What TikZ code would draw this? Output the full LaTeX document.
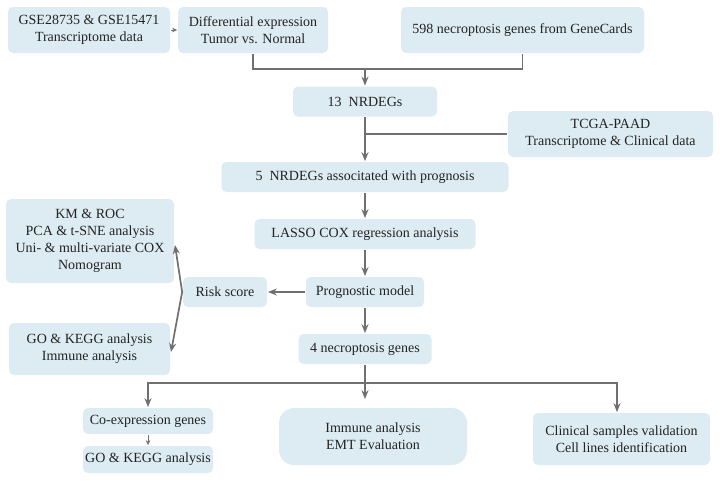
\documentclass[tikz,border=0pt]{standalone}
\usepackage{fontspec}
\setmainfont{Liberation Serif}
\usetikzlibrary{shapes,arrows.meta}
\definecolor{boxblue}{RGB}{220,236,242}
\definecolor{linegray}{RGB}{112,112,112}
\definecolor{textgray}{RGB}{35,35,35}

\begin{document}
\begin{tikzpicture}[x=1pt,y=-1pt,->,>={Stealth[length=9pt,width=7pt]},draw=linegray,line width=1.7pt]
	\rmfamily\fontsize{14}{17}\selectfont
	\def \rowone{30}
	\def \joinone{69}
	\def \rowtwo{101.5}
	\def \joinfree{134}
	\def \rowthree{177}
	\def \rowfour{234}
	\def \rowfive{292}
	\def \rowsix{349}
	\def \jointwo{383}
	\def \midx{365}

	\tikzstyle{box}=[fill=boxblue,draw=none,rounded corners=5pt,text=textgray,align=center,inner sep=0pt]
	\tikzstyle{small}=[line width=0.9pt,>={Stealth[length=5pt,width=4.5pt]}]

	\useasboundingbox (0,0) rectangle (720,480);

	% data sources
	\node[box,minimum width=162,minimum height=46]	(gse)	at (89,\rowone)		{GSE28735 \& GSE15471\\Transcriptome data};
	\node[box,minimum width=150,minimum height=46]	(diff)	at (253,\rowone)	{Differential expression\\Tumor vs. Normal};
	\node[box,minimum width=243,minimum height=46]	(genecards)	at (522.5,\rowone)	{598 necroptosis genes from GeneCards};
	\node[box,minimum width=144,minimum height=30]	(nrdeg13)	at (\midx,\rowtwo)	{13\ \ NRDEGs};
	\node[box,minimum width=205,minimum height=46]	(tcga)	at (610.5,\joinfree)	{TCGA-PAAD\\Transcriptome \& Clinical data};
	\node[box,minimum width=287,minimum height=30]	(nrdeg5)	at (\midx,\rowthree)	{5\ \ NRDEGs associtated with prognosis};
	\node[box,minimum width=221,minimum height=30]	(lasso)	at (\midx,\rowfour)	{LASSO COX regression analysis};
	\node[box,minimum width=118,minimum height=30]	(prog)	at (\midx,\rowfive)	{Prognostic model};
	\node[box,minimum width=84,minimum height=30]	(risk)	at (225,\rowfive)	{Risk score};
	\node[box,minimum width=168,minimum height=84]	(km)	at (90,241)	{KM \& ROC\\PCA \& t-SNE analysis\\Uni- \& multi-variate COX\\Nomogram};
	\node[box,minimum width=161,minimum height=52]	(goimm)	at (89.5,349)	{GO \& KEGG analysis\\Immune analysis};
	\node[box,minimum width=133,minimum height=30]	(nec4)	at (\midx,\rowsix)	{4 necroptosis genes};

	% validation
	\node[box,minimum width=130,minimum height=26]	(coexp)	at (148,421)	{Co-expression genes};
	\node[box,minimum width=130,minimum height=27]	(gokegg)	at (148,459.5)	{GO \& KEGG analysis};
	\node[box,rounded corners=15pt,minimum width=188,minimum height=57]	(immune)	at (373,436.5)	{Immune analysis\\EMT Evaluation};
	\node[box,minimum width=177,minimum height=52]	(clinical)	at (621.5,439)	{Clinical samples validation\\Cell lines identification};

	\coordinate (j1) at (\midx,\joinone);
	\coordinate (j2) at (\midx,\joinfree);
	\coordinate (j3) at (\midx,\jointwo);
	\coordinate (kmtip) at (175,245);
	\coordinate (gotip) at (171,352);

	\draw[small] (gse) -- (diff);
	\draw[-] (diff.south) |- (j1) -| (genecards.south);
	\draw (j1) -- (nrdeg13);
	\draw[-] (tcga) -- (j2);
	\draw (nrdeg13) -- (nrdeg5);
	\draw (nrdeg5) -- (lasso);
	\draw (lasso) -- (prog);
	\draw (prog) -- (risk);
	\draw[<->] (kmtip) -- (risk.west) -- (gotip);
	\draw (prog) -- (nec4);
	\draw[-] (nec4) -- (j3);
	\draw (j3) -| (coexp.north);
	\draw[shorten >=8pt] (j3) -- (j3 |- immune.north);
	\draw (j3) -| ([xshift=-4.5]clinical.north);
	\draw[small] (coexp) -- (gokegg);
\end{tikzpicture}
\end{document}
